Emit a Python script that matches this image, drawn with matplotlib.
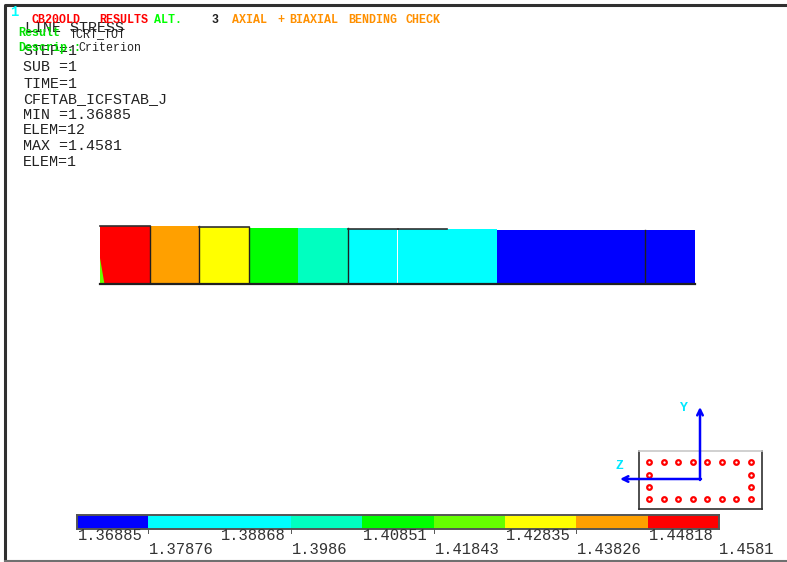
import numpy as np
import matplotlib
matplotlib.use('Agg')
import matplotlib.pyplot as plt
from matplotlib.colors import ListedColormap, BoundaryNorm

W, H = 787, 562

# contour levels and colours of the legend
niveles = [1.36885, 1.37876, 1.38868, 1.3986, 1.40851, 1.41843, 1.42835, 1.43826, 1.44818, 1.4581]
etiquetas = ['1.36885', '1.37876', '1.38868', '1.3986', '1.40851',
             '1.41843', '1.42835', '1.43826', '1.44818', '1.4581']
colores = ['#0000ff', '#00ffff', '#00ffff', '#00ffc0', '#00ff00',
           '#66ff00', '#ffff00', '#ffa000', '#ff0000']

# one value per beam element
valores = [1.4581, 1.443, 1.433, 1.413, 1.403, 1.395, 1.393, 1.385, 1.376, 1.373, 1.371, 1.36885]
divisiones = [1, 2, 3, 5, 11]
techos = [0, 2, 5, 6]

# rebar layout of the section
barras_z = [0, 1, 2, 3, 4, 5, 6, 7, 0, 7, 0, 7, 0, 1, 2, 3, 4, 5, 6, 7]
barras_y = [3, 3, 3, 3, 3, 3, 3, 3, 2, 2, 1, 1, 0, 0, 0, 0, 0, 0, 0, 0]

info = [('LINE STRESS', 25, 28), ('STEP=1', 23, 51), ('SUB =1', 23, 67), ('TIME=1', 23, 84),
        ('CFETAB_ICFSTAB_J', 23, 99), ('MIN =1.36885', 23, 115), ('ELEM=12', 23, 130),
        ('MAX =1.4581', 23, 146), ('ELEM=1', 23, 162)]
titulo = [('CB20OLD', 32, '#ff0000'), ('RESULTS', 99, '#ff0000'), ('ALT.', 154, '#00ff00'),
          ('3', 212, '#202020'), ('AXIAL', 232, '#ff9000'), ('+', 277, '#ff9000'),
          ('BIAXIAL', 289, '#ff9000'), ('BENDING', 348, '#ff9000'), ('CHECK', 405, '#ff9000')]


def ejes(fig, x0, y0, x1, y1, **kw):
    # axes placed by pixel box, y measured from the top of the image
    return fig.add_axes([x0 / W, 1 - y1 / H, (x1 - x0) / W, (y1 - y0) / H], **kw)


fig = plt.figure(figsize=(W / 100, H / 100), dpi=100)
cmap = ListedColormap(colores)
norm = BoundaryNorm(niveles, cmap.N)

# overlay in image pixels for frame and text
fondo = ejes(fig, 0, 0, W, H)
fondo.set_xlim(0, W)
fondo.set_ylim(H, 0)
fondo.axis('off')
fondo.plot([5, 5, W], [H, 5, 5], color='#303030', lw=2.2)
fondo.plot([5, W], [560.5, 560.5], color='#707070', lw=1.5)

mono = 'Liberation Mono'
for txt, x, y in info:
    fondo.text(x, y, txt, family=mono, fontsize=10.8, color='#222222', va='center', ha='left')
fondo.text(10, 12, '1', family=mono, fontsize=10, color='#00ffff', fontweight='bold', va='center')
for txt, x, c in titulo:
    fondo.text(x, 20, txt, family=mono, fontsize=8.4, color=c, va='center', ha='left', fontweight='bold')
fondo.text(18, 33, 'Result', family=mono, fontsize=8.4, color='#00e000', va='center', fontweight='bold')
fondo.text(70, 34, 'TCRT_TOT', family=mono, fontsize=8.4, color='#222222', va='center')
fondo.text(18, 48, 'Descrip.:', family=mono, fontsize=8.4, color='#00e000', va='center', fontweight='bold')
fondo.text(78, 48, 'Criterion', family=mono, fontsize=8.4, color='#222222', va='center')

# beam
viga = ejes(fig, 100, 200, 695, 284)
base = niveles[0] - 54 * (niveles[-1] - niveles[0]) / 4.3
viga.set_xlim(0, len(valores))
viga.set_ylim(base, base + 84 * (niveles[-1] - niveles[0]) / 4.3)
viga.axis('off')
viga.patch.set_alpha(0)
x = np.arange(len(valores))
viga.bar(x, np.array(valores) - base, bottom=base, width=1.0, align='edge',
         color=cmap(norm(np.minimum(valores, niveles[-1] - 1e-6))), linewidth=0, antialiased=False)
viga.plot([0, len(valores)], [base, base], color='#202020', lw=1.6, clip_on=False)
for d in divisiones:
    viga.plot([d, d], [base, valores[d - 1]], color='#202020', lw=1.0)
for t in techos:
    viga.plot([t, t + 1], [valores[t], valores[t]], color='#303030', lw=1.2, clip_on=False)
viga.fill([0, 0, 0.09], [base, base + 26 * (niveles[-1] - niveles[0]) / 4.3, base], color='#66ff00', lw=0)

# legend bar
barra = ejes(fig, 77, 514.5, 719, 528.5)
barra.set_xlim(niveles[0], niveles[-1])
barra.set_ylim(0, 1)
barra.bar(niveles[:-1], 1, width=np.diff(niveles), align='edge', color=colores, linewidth=0, antialiased=False)
barra.set_xticks([])
barra.set_yticks([])
for s in barra.spines.values():
    s.set_color('#555555')
    s.set_linewidth(1.4)
for i, (n, e) in enumerate(zip(niveles, etiquetas)):
    fila = 535 if i % 2 == 0 else 550
    px = 77 + 642 * (n - niveles[0]) / (niveles[-1] - niveles[0])
    fondo.text(px + (1 if i < 9 else 0), fila, e, family=mono, fontsize=11.2, color='#333333',
               va='center', ha='left')
    if i % 2 == 1 and i < 9:
        fondo.plot([px, px], [528, 533], color='#555555', lw=0.7)

# section inset
seccion = ejes(fig, 639, 451, 762, 509)
seccion.set_xlim(-0.69, 7.75)
seccion.set_ylim(-0.77, 3.93)
seccion.set_xticks([])
seccion.set_yticks([])
seccion.patch.set_alpha(0)
for s in seccion.spines.values():
    s.set_color('#303030')
    s.set_linewidth(1.2)
seccion.spines['top'].set_color('#c8c8c8')
seccion.scatter(barras_z, barras_y, s=11, facecolors='white', edgecolors='#ff0000', linewidths=1.6)

# global axes triad
fondo.annotate('', xy=(700, 407), xytext=(700, 480), zorder=5,
               arrowprops=dict(arrowstyle='->', color='#0000ff', lw=1.8, shrinkA=0, shrinkB=0))
fondo.annotate('', xy=(620, 479), xytext=(701, 479), zorder=5,
               arrowprops=dict(arrowstyle='->', color='#0000ff', lw=1.8, shrinkA=0, shrinkB=0))
fondo.set_zorder(3)
fondo.patch.set_alpha(0)
fondo.text(684, 408, 'Y', family=mono, fontsize=9.5, color='#00e8ff', fontweight='bold', ha='center', va='center')
fondo.text(619, 466, 'Z', family=mono, fontsize=9.5, color='#00e8ff', fontweight='bold', ha='center', va='center')

fig.savefig('out.png', dpi=100)
